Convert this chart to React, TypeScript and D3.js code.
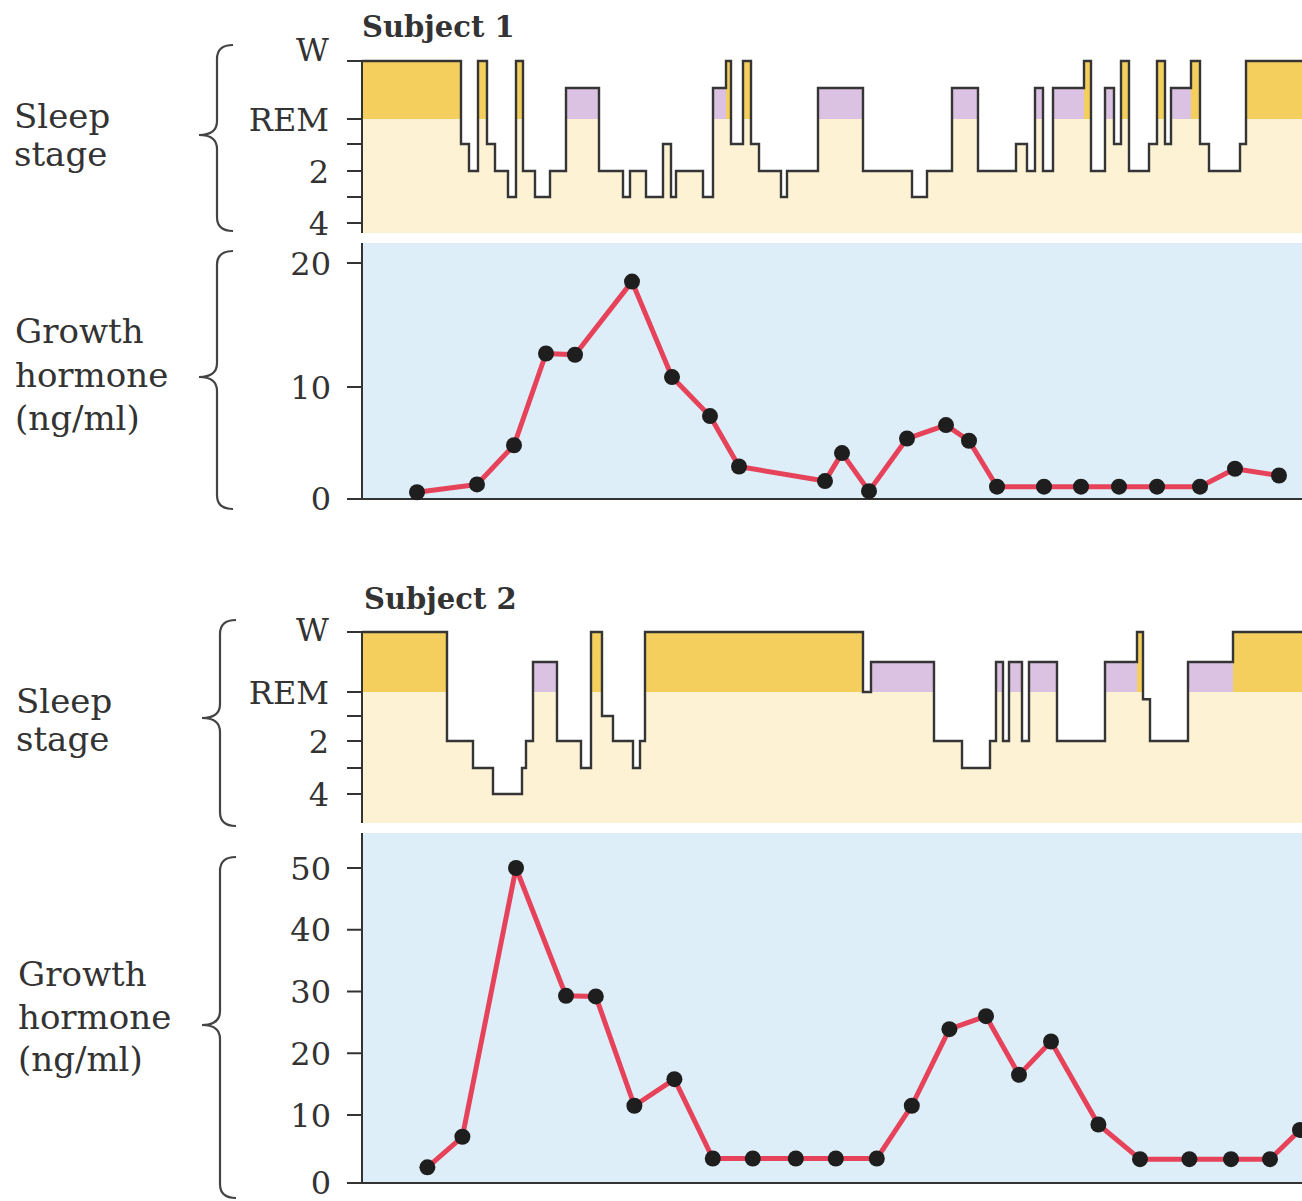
import React from 'react';
import * as d3 from 'd3';

// ---------- data ----------
const TIME_END = 470; // minutes shown on the time axis

// sleep stage codes: W = awake, R = REM, T = REM/1 boundary, X = just below boundary, 1..4 = NREM stages
const stageRank: Record<string, number> = { W: 0, R: 1, T: 2, X: 2.3, '1': 3, '2': 4, '3': 5, '4': 6 };

const s1SleepStart = [0, 49.5, 53.5, 58, 62.5, 66.5, 73, 77, 80.5, 86.5, 94, 102, 118.5, 130.5, 134, 142, 150.5, 154.5, 157, 170.5, 175.5, 182, 184.5, 190.5, 194.5, 198.5, 209.5, 212.5, 228, 250.5, 275, 282.5, 295, 308, 327, 332.5, 336.5, 340.5, 345.5, 361, 364.5, 371.5, 376, 379.5, 383.5, 393.5, 397.5, 401.5, 404.5, 414.5, 419, 423.5, 439, 442];
const s1SleepStage = ['W', '1', '2', 'W', '1', '2', '3', 'W', '2', '3', '2', 'R', '2', '3', '2', '3', '1', '3', '2', '3', 'R', 'W', '1', 'W', '1', '2', '3', '2', 'R', '2', '3', '2', 'R', '2', '1', '2', 'R', '2', 'R', 'W', '2', 'R', '1', 'W', '2', '1', 'W', '1', 'R', 'W', '1', '2', '1', 'W'];

const s2SleepStart = [0, 42.5, 55.5, 65.5, 80, 82, 85.5, 97.5, 109.5, 114.5, 120, 125.5, 135.5, 139, 141.5, 250.5, 254.5, 286, 300, 314, 317, 320.5, 323.5, 330, 333.5, 347.5, 371.5, 387.5, 390.5, 394, 413, 435.5];
const s2SleepStage = ['W', '2', '3', '4', '3', '2', 'R', '2', '3', 'W', '1', '2', '3', '2', 'W', 'T', 'R', '2', '3', '2', 'R', '2', 'R', '2', 'R', '2', 'R', 'W', 'X', '2', 'R', 'W'];

const s1HormoneTime = [27.5, 57.5, 76, 92, 106.5, 135, 155, 174, 188.5, 231.5, 240, 253.5, 272.5, 292, 303.5, 317.5, 341, 359.5, 378.5, 397.5, 419, 436.5, 458.5];
const s1HormoneValue = [0.6, 1.3, 4.8, 12.7, 12.6, 18.5, 10.8, 7.4, 2.9, 1.6, 4.1, 0.7, 5.4, 6.6, 5.2, 1.1, 1.1, 1.1, 1.1, 1.1, 1.1, 2.7, 2.1];

const s2HormoneTime = [32.7, 50.2, 77, 102, 116.9, 136.2, 156.2, 175.4, 195.4, 216.9, 236.9, 257.4, 274.9, 293.7, 312, 328.5, 344.5, 368.2, 389, 413.7, 434.5, 454, 469];
const s2HormoneValue = [2.3, 6.8, 50, 29.3, 29.2, 11.5, 15.8, 3.6, 3.6, 3.6, 3.6, 3.6, 11.5, 23.9, 26.0, 16.5, 21.9, 8.6, 3.5, 3.5, 3.5, 3.5, 7.8];

const sleepTickCodes = ['W', 'T', '1', '2', '3', '4'];
const sleepTickLabels: [string, string][] = [['W', 'W'], ['T', 'REM'], ['2', '2'], ['4', '4']];
const s1HormoneTicks = [0, 10, 20];
const s2HormoneTicks = [0, 10, 20, 30, 40, 50];

// ---------- styling ----------
const FONT = '"DejaVu Serif", serif';
const INK = '#333';
const CREAM = '#fdf2d4';
const WAKE = '#f4cf5e';
const REMC = '#dbc1e2';
const BLUE = '#ddeef8';
const RED = '#e6435a';

const PLOT_L = 362;
const PLOT_R = 1302;
const x = d3.scaleLinear().domain([0, TIME_END]).range([PLOT_L, PLOT_R]);

function Brace({ xr, xt, top, mid, bottom }: { xr: number; xt: number; top: number; mid: number; bottom: number }) {
  const xm = (xr + xt) / 2 + 1;
  const r = 14;
  const p = d3.path();
  p.moveTo(xr, top);
  p.quadraticCurveTo(xm, top, xm, top + r);
  p.lineTo(xm, mid - r);
  p.quadraticCurveTo(xm, mid, xt, mid);
  p.quadraticCurveTo(xm, mid, xm, mid + r);
  p.lineTo(xm, bottom - r);
  p.quadraticCurveTo(xm, bottom, xr, bottom);
  return <path d={p.toString()} fill="none" stroke="#444" strokeWidth={2.2} />;
}

function SleepPanel({ starts, stages, yRange, bottom, wShift }: { starts: number[]; stages: string[]; yRange: number[]; bottom: number; wShift: number }) {
  const y = d3.scaleLinear().domain([0, 1, 2, 3, 4, 5, 6]).range(yRange);
  const ys = (c: string) => y(stageRank[c]);
  const yT = ys('T');
  const segs = starts.map((s, i) => ({ t0: s, t1: i + 1 < starts.length ? starts[i + 1] : TIME_END, c: stages[i] }));
  const pts: [number, string][] = segs.map((s) => [s.t0, s.c] as [number, string]);
  pts.push([TIME_END, stages[stages.length - 1]]);
  const line = d3.line<[number, string]>().x((d) => x(d[0])).y((d) => ys(d[1])).curve(d3.curveStepAfter);
  const area = d3
    .area<[number, string]>()
    .x((d) => x(d[0]))
    .y0(bottom)
    .y1((d) => Math.max(ys(d[1]), yT))
    .curve(d3.curveStepAfter);
  return (
    <g>
      <path d={area(pts) || ''} fill={CREAM} />
      {segs
        .filter((s) => ys(s.c) < yT)
        .map((s, i) => (
          <rect key={i} x={x(s.t0)} width={x(s.t1) - x(s.t0)} y={ys(s.c)} height={yT - ys(s.c)} fill={s.c === 'W' ? WAKE : REMC} shapeRendering="crispEdges" />
        ))}
      <path d={line(pts) || ''} fill="none" stroke="#353535" strokeWidth={2.4} />
      <line x1={PLOT_L} x2={PLOT_L} y1={ys('W')} y2={bottom} stroke={INK} strokeWidth={2} />
      {sleepTickCodes.map((c) => (
        <line key={c} x1={PLOT_L - 15} x2={PLOT_L} y1={ys(c)} y2={ys(c)} stroke={INK} strokeWidth={2} />
      ))}
      {sleepTickLabels.map(([c, lab]) => (
        <text key={c} x={PLOT_L - 33} y={ys(c) + (c === 'W' ? wShift : 0)} dy="0.36em" textAnchor="end" fontFamily={FONT} fontSize={32} fill={INK}>
          {lab}
        </text>
      ))}
    </g>
  );
}

function HormonePanel({ times, values, domain, range, top, ticks }: { times: number[]; values: number[]; domain: number[]; range: number[]; top: number; ticks: number[] }) {
  const y = d3.scaleLinear().domain(domain).range(range);
  const base = y(0);
  const pts = times.map((t, i) => [t, values[i]] as [number, number]);
  const line = d3.line<[number, number]>().x((d) => x(d[0])).y((d) => y(d[1]));
  return (
    <g>
      <rect x={PLOT_L} y={top} width={PLOT_R - PLOT_L} height={base - top} fill={BLUE} />
      <line x1={PLOT_L} x2={PLOT_L} y1={top} y2={base} stroke={INK} strokeWidth={2} />
      <line x1={PLOT_L - 15} x2={PLOT_R} y1={base} y2={base} stroke={INK} strokeWidth={2} />
      {ticks.map((t) => (
        <g key={t}>
          <line x1={PLOT_L - 15} x2={PLOT_L} y1={y(t)} y2={y(t)} stroke={INK} strokeWidth={2} />
          <text x={PLOT_L - 31} y={y(t) - (t === 0 ? 1 : 0)} dy="0.36em" textAnchor="end" fontFamily={FONT} fontSize={32} fill={INK}>
            {t}
          </text>
        </g>
      ))}
      <path d={line(pts) || ''} fill="none" stroke={RED} strokeWidth={5} strokeLinejoin="round" />
      {pts.map((d, i) => (
        <circle key={i} cx={x(d[0])} cy={y(d[1])} r={8} fill="#1e1e1e" />
      ))}
    </g>
  );
}

function SideLabel({ lines, x0, baselines }: { lines: string[]; x0: number; baselines: number[] }) {
  return (
    <g>
      {lines.map((l, i) => (
        <text key={i} x={x0} y={baselines[i]} fontFamily={FONT} fontSize={34} fill={INK}>
          {l}
        </text>
      ))}
    </g>
  );
}

export default function App() {
  return (
    <svg width={1302} height={1201} style={{ position: 'absolute', left: 0, top: 0, background: '#fff', display: 'block' }}>
      <rect x={0} y={0} width={1302} height={1201} fill="#fff" />
      {/* Subject 1 */}
      <text x={362} y={37} fontFamily={FONT} fontWeight="bold" fontSize={29} fill={INK}>Subject 1</text>
      <SleepPanel starts={s1SleepStart} stages={s1SleepStage} yRange={[61, 88, 119, 144, 171, 197, 223]} bottom={233} wShift={-12} />
      <HormonePanel times={s1HormoneTime} values={s1HormoneValue} domain={[0, 10, 20]} range={[499, 387, 263]} top={243} ticks={s1HormoneTicks} />
      <SideLabel lines={['Sleep', 'stage']} x0={14} baselines={[128, 166]} />
      <SideLabel lines={['Growth', 'hormone', '(ng/ml)']} x0={15} baselines={[343, 387, 430]} />
      <Brace xr={233} xt={199} top={45} mid={135} bottom={231} />
      <Brace xr={233} xt={199} top={251} mid={377} bottom={509} />

      {/* Subject 2 */}
      <text x={364} y={609} fontFamily={FONT} fontWeight="bold" fontSize={29} fill={INK}>Subject 2</text>
      <SleepPanel starts={s2SleepStart} stages={s2SleepStage} yRange={[632, 662, 692, 716, 741, 768, 794]} bottom={823} wShift={-3} />
      <HormonePanel times={s2HormoneTime} values={s2HormoneValue} domain={[0, 10, 50]} range={[1183, 1115, 868]} top={833} ticks={s2HormoneTicks} />
      <SideLabel lines={['Sleep', 'stage']} x0={16} baselines={[713, 751]} />
      <SideLabel lines={['Growth', 'hormone', '(ng/ml)']} x0={18} baselines={[986, 1029, 1071]} />
      <Brace xr={236} xt={202} top={620} mid={718} bottom={826} />
      <Brace xr={236} xt={202} top={857} mid={1025} bottom={1198} />
    </svg>
  );
}
